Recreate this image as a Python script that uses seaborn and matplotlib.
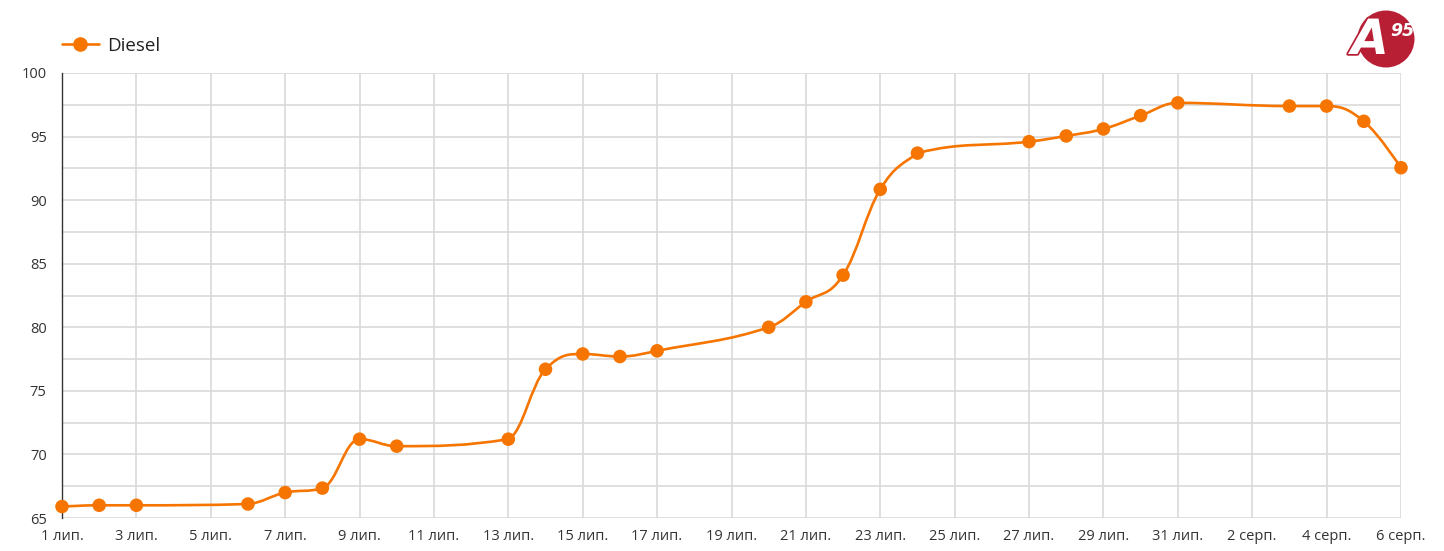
import numpy as np
import pandas as pd
import matplotlib
matplotlib.use("Agg")
import matplotlib.pyplot as plt
import matplotlib.dates as mdates
from matplotlib.path import Path
from matplotlib.patches import PathPatch, Circle
from matplotlib.lines import Line2D
from matplotlib.ticker import MultipleLocator
import matplotlib.patheffects as pe
import seaborn as sns

# ---------------- data ----------------
dates = ["2024-07-01", "2024-07-02", "2024-07-03", "2024-07-06", "2024-07-07",
         "2024-07-08", "2024-07-09", "2024-07-10", "2024-07-13", "2024-07-14",
         "2024-07-15", "2024-07-16", "2024-07-17", "2024-07-20", "2024-07-21",
         "2024-07-22", "2024-07-23", "2024-07-24", "2024-07-27", "2024-07-28",
         "2024-07-29", "2024-07-30", "2024-07-31", "2024-08-03", "2024-08-04",
         "2024-08-05", "2024-08-06"]
diesel = [65.9, 66.0, 66.0, 66.1, 67.0,
          67.35, 71.2, 70.65, 71.2, 76.7,
          77.9, 77.7, 78.15, 80.0, 82.0,
          84.1, 90.85, 93.7, 94.6, 95.05,
          95.6, 96.65, 97.65, 97.4, 97.4,
          96.2, 92.55]
series_name = "Diesel"
tick_dates = ["2024-07-01", "2024-07-03", "2024-07-05", "2024-07-07", "2024-07-09",
              "2024-07-11", "2024-07-13", "2024-07-15", "2024-07-17", "2024-07-19",
              "2024-07-21", "2024-07-23", "2024-07-25", "2024-07-27", "2024-07-29",
              "2024-07-31", "2024-08-02", "2024-08-04", "2024-08-06"]
tick_labels = ["1 лип.", "3 лип.", "5 лип.", "7 лип.", "9 лип.", "11 лип.", "13 лип.",
               "15 лип.", "17 лип.", "19 лип.", "21 лип.", "23 лип.", "25 лип.",
               "27 лип.", "29 лип.", "31 лип.", "2 серп.", "4 серп.", "6 серп."]
y_ticks = [65, 70, 75, 80, 85, 90, 95, 100]

ORANGE = "#F67500"
RED = "#B81F35"
GRID = "#D9D9D9"
TEXT = "#333333"
FONT = ["Open Sans", "DejaVu Sans"]

df = pd.DataFrame({"date": pd.to_datetime(dates), "value": diesel})
df["x"] = mdates.date2num(df["date"])


def spline_path(xs, ys, smoothing=1.5):
    """Highcharts-style spline rendered as cubic Bezier segments."""
    n = len(xs)
    verts = [(xs[0], ys[0])]
    codes = [Path.MOVETO]
    rc = [None] * n
    d = smoothing + 1
    for i in range(1, n):
        px, py = xs[i], ys[i]
        lcx, lcy = px, py
        if i < n - 1:
            lx, ly = xs[i - 1], ys[i - 1]
            nx, ny = xs[i + 1], ys[i + 1]
            lcx = (smoothing * px + lx) / d
            lcy = (smoothing * py + ly) / d
            rcx = (smoothing * px + nx) / d
            rcy = (smoothing * py + ny) / d
            corr = 0.0
            if rcx != lcx:
                corr = ((rcy - lcy) * (rcx - px)) / (rcx - lcx) + py - rcy
            lcy += corr
            rcy += corr
            if lcy > ly and lcy > py:
                lcy = max(ly, py); rcy = 2 * py - lcy
            elif lcy < ly and lcy < py:
                lcy = min(ly, py); rcy = 2 * py - lcy
            if rcy > ny and rcy > py:
                rcy = max(ny, py); lcy = 2 * py - rcy
            elif rcy < ny and rcy < py:
                rcy = min(ny, py); lcy = 2 * py - rcy
            rc[i] = (rcx, rcy)
        prev = rc[i - 1] if rc[i - 1] is not None else (xs[i - 1], ys[i - 1])
        verts += [prev, (lcx, lcy), (px, py)]
        codes += [Path.CURVE4] * 3
    return Path(verts, codes)


sns.set_theme(style="white")
plt.rcParams["font.family"] = FONT

W, H = 1444, 551
fig = plt.figure(figsize=(W / 100, H / 100), dpi=100)
ax = fig.add_axes([62 / W, 1 - 518 / H, (1401 - 62) / W, (518 - 73) / H])

# line (spline) + markers
path = spline_path(list(df["x"]), list(df["value"]))
ax.add_patch(PathPatch(path, facecolor="none", edgecolor=ORANGE, lw=1.9,
                       zorder=3, capstyle="round", joinstyle="round", clip_on=False))
sns.scatterplot(data=df, x="x", y="value", ax=ax, color=ORANGE, s=95,
                edgecolor="none", zorder=4, legend=False, clip_on=False)
for coll in ax.collections:
    coll.set_clip_on(False)

# axes setup
tx = mdates.date2num(pd.to_datetime(tick_dates))
ax.set_xlim(tx[0], tx[-1])
ax.set_ylim(65, 100)
ax.set_xticks(tx)
ax.set_xticklabels(tick_labels)
ax.set_yticks(y_ticks)
ax.set_yticklabels([str(v) for v in y_ticks])
ax.yaxis.set_minor_locator(MultipleLocator(2.5))
ax.grid(True, which="both", axis="y", color=GRID, lw=1.2, zorder=0)
ax.grid(True, which="major", axis="x", color=GRID, lw=1.2, zorder=0)
ax.set_axisbelow(True)
ax.tick_params(axis="both", which="both", length=0, colors=TEXT, labelsize=10.5)
ax.tick_params(axis="y", pad=11)
ax.tick_params(axis="x", pad=8)
ax.set_xlabel("")
ax.set_ylabel("")
for s in ["top", "right", "bottom"]:
    ax.spines[s].set_visible(False)
ax.spines["left"].set_color("#333333")
ax.spines["left"].set_linewidth(1.0)

# legend
handle = Line2D([], [], color=ORANGE, lw=1.9, marker="o", markersize=9.5,
                markeredgecolor=ORANGE)
fig.legend([handle], [series_name], loc="center left",
           bbox_to_anchor=(62 / W, 1 - 46 / H), frameon=False,
           handlelength=1.95, handletextpad=0.45, borderpad=0, borderaxespad=0,
           prop={"family": FONT, "size": 13.5}, labelcolor="#222222")

# logo
fig.add_artist(Circle((1386 / 100, (H - 39) / 100), 0.285, transform=fig.dpi_scale_trans,
                      facecolor=RED, edgecolor="none"))
fig.text(1370 / W, 1 - 40 / H, "A", ha="center", va="center", color="white",
         fontsize=35, fontweight="bold", style="italic", family=["DejaVu Sans"],
         path_effects=[pe.withStroke(linewidth=2.5, foreground=RED)])
fig.text(1402 / W, 1 - 31 / H, "95", ha="center", va="center", color="white",
         fontsize=12.5, fontweight="bold", style="italic", family=["DejaVu Sans"])

fig.savefig("out.png", dpi=100)
